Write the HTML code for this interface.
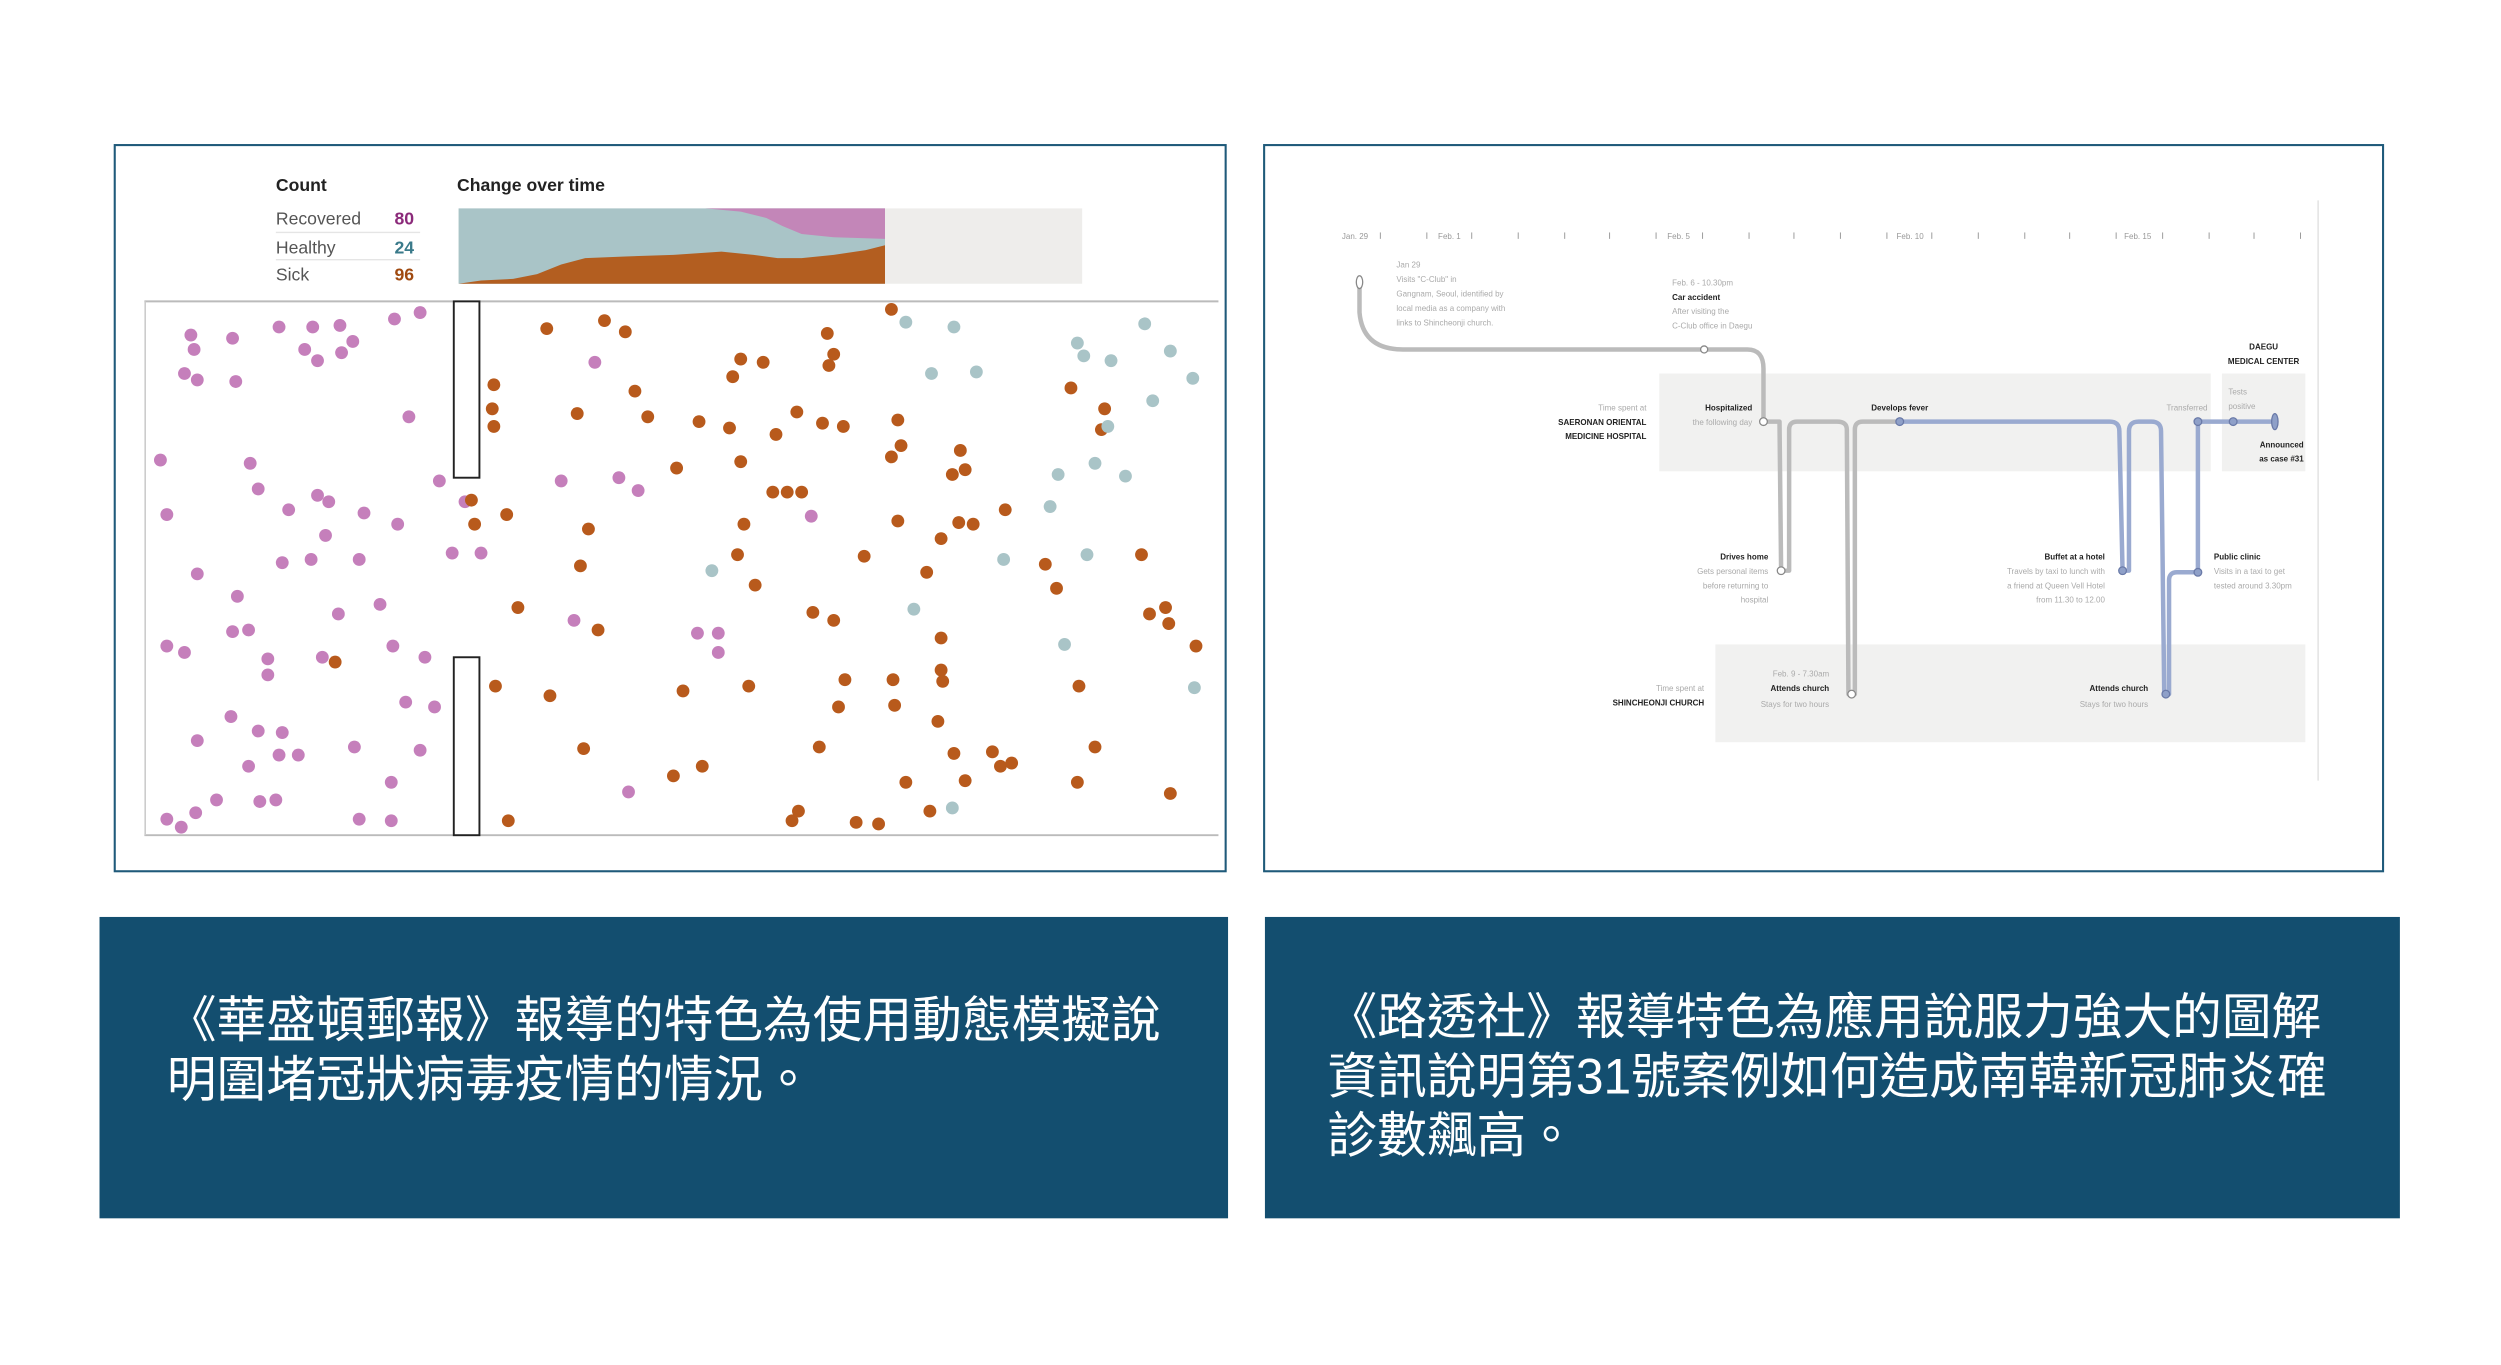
<!DOCTYPE html>
<html><head><meta charset="utf-8"><style>
html,body{margin:0;padding:0;background:#fff;}
svg{display:block;}
.s{font-family:"Liberation Sans",sans-serif;font-size:5px;fill:#aaa;}
.b{font-family:"Liberation Sans",sans-serif;font-size:5px;fill:#222;font-weight:bold;}
.cap{font-family:"Liberation Sans","Noto Sans CJK TC",sans-serif;font-size:31px;fill:#fff;}
</style></head><body>
<svg width="2501" height="1365" viewBox="0 0 1560 851.5" xmlns="http://www.w3.org/2000/svg">
<rect x="0" y="0" width="1560" height="852" fill="#fff"/>
<rect x="71.5" y="90.5" width="693" height="453" fill="#fff" stroke="#1f5a7a" stroke-width="1.3"/>
<rect x="788.5" y="90.5" width="698" height="453" fill="#fff" stroke="#1f5a7a" stroke-width="1.3"/>

<g font-family="Liberation Sans, sans-serif">
<text x="172" y="119" font-size="11" font-weight="bold" fill="#222">Count</text>
<text x="285" y="119" font-size="11" font-weight="bold" fill="#222">Change over time</text>
<text x="172" y="140" font-size="11" fill="#555">Recovered</text>
<text x="246" y="140" font-size="11" font-weight="bold" fill="#8b2a7a">80</text>
<line x1="172" y1="145" x2="262" y2="145" stroke="#e5e5e5" stroke-width="0.8"/>
<text x="172" y="158" font-size="11" fill="#555">Healthy</text>
<text x="246" y="158" font-size="11" font-weight="bold" fill="#3a7a8a">24</text>
<line x1="172" y1="162" x2="262" y2="162" stroke="#e5e5e5" stroke-width="0.8"/>
<text x="172" y="175" font-size="11" fill="#555">Sick</text>
<text x="246" y="175" font-size="11" font-weight="bold" fill="#a04a10">96</text>
</g>
<rect x="286" y="130" width="389" height="47" fill="#eeedeb"/>
<rect x="286" y="130" width="266" height="47" fill="#a9c4c7"/>
<path d="M420,130 L552,130 L552,149 L520,148 L500,146 L488,141 L478,136 L462,132 L440,130 Z" fill="#c386b8"/>
<path d="M286,177 L300,175 L320,174 L335,171 L350,165 L365,161 L390,160 L420,159 L450,157 L470,159 L485,161 L500,161 L520,159 L540,156 L552,153 L552,177 Z" fill="#b35e20"/>

<line x1="90" y1="188" x2="760" y2="188" stroke="#bbb" stroke-width="1.2"/>
<line x1="90" y1="521" x2="760" y2="521" stroke="#bbb" stroke-width="1.2"/>
<line x1="90.5" y1="188" x2="90.5" y2="521" stroke="#ccc" stroke-width="1"/>
<rect x="283" y="188" width="16" height="110" fill="#fff" stroke="#222" stroke-width="1.2"/>
<rect x="283" y="410" width="16" height="111" fill="#fff" stroke="#222" stroke-width="1.2"/>

<g fill="#c57fbb">
<circle cx="119" cy="209" r="4"/><circle cx="121" cy="218" r="4"/><circle cx="145" cy="211" r="4"/><circle cx="174" cy="204" r="4"/><circle cx="195" cy="204" r="4"/><circle cx="212" cy="203" r="4"/><circle cx="190" cy="218" r="4"/><circle cx="198" cy="225" r="4"/><circle cx="213" cy="220" r="4"/><circle cx="220" cy="213" r="4"/><circle cx="246" cy="199" r="4"/><circle cx="262" cy="195" r="4"/><circle cx="115" cy="233" r="4"/><circle cx="123" cy="237" r="4"/><circle cx="147" cy="238" r="4"/><circle cx="255" cy="260" r="4"/><circle cx="100" cy="287" r="4"/><circle cx="156" cy="289" r="4"/><circle cx="161" cy="305" r="4"/><circle cx="198" cy="309" r="4"/><circle cx="205" cy="313" r="4"/><circle cx="180" cy="318" r="4"/><circle cx="104" cy="321" r="4"/><circle cx="227" cy="320" r="4"/><circle cx="248" cy="327" r="4"/><circle cx="274" cy="300" r="4"/><circle cx="290" cy="313" r="4"/><circle cx="224" cy="349" r="4"/><circle cx="203" cy="334" r="4"/><circle cx="194" cy="349" r="4"/><circle cx="176" cy="351" r="4"/><circle cx="123" cy="358" r="4"/><circle cx="148" cy="372" r="4"/><circle cx="145" cy="394" r="4"/><circle cx="155" cy="393" r="4"/><circle cx="211" cy="383" r="4"/><circle cx="237" cy="377" r="4"/><circle cx="104" cy="403" r="4"/><circle cx="115" cy="407" r="4"/><circle cx="167" cy="411" r="4"/><circle cx="167" cy="421" r="4"/><circle cx="201" cy="410" r="4"/><circle cx="245" cy="403" r="4"/><circle cx="265" cy="410" r="4"/><circle cx="271" cy="441" r="4"/><circle cx="253" cy="438" r="4"/><circle cx="144" cy="447" r="4"/><circle cx="161" cy="456" r="4"/><circle cx="176" cy="457" r="4"/><circle cx="123" cy="462" r="4"/><circle cx="186" cy="471" r="4"/><circle cx="174" cy="471" r="4"/><circle cx="155" cy="478" r="4"/><circle cx="221" cy="466" r="4"/><circle cx="262" cy="468" r="4"/><circle cx="172" cy="499" r="4"/><circle cx="162" cy="500" r="4"/><circle cx="135" cy="499" r="4"/><circle cx="244" cy="488" r="4"/><circle cx="104" cy="511" r="4"/><circle cx="113" cy="516" r="4"/><circle cx="122" cy="507" r="4"/><circle cx="224" cy="511" r="4"/><circle cx="244" cy="512" r="4"/><circle cx="282" cy="345" r="4"/><circle cx="300" cy="345" r="4"/><circle cx="358" cy="387" r="4"/><circle cx="386" cy="298" r="4"/><circle cx="371" cy="226" r="4"/><circle cx="398" cy="306" r="4"/><circle cx="435" cy="395" r="4"/><circle cx="448" cy="395" r="4"/><circle cx="448" cy="407" r="4"/><circle cx="392" cy="494" r="4"/><circle cx="350" cy="300" r="4"/><circle cx="506" cy="322" r="4"/>
</g>
<g fill="#b85a1c">
<circle cx="341" cy="205" r="4"/><circle cx="377" cy="200" r="4"/><circle cx="390" cy="207" r="4"/><circle cx="308" cy="240" r="4"/><circle cx="307" cy="255" r="4"/><circle cx="308" cy="266" r="4"/><circle cx="360" cy="258" r="4"/><circle cx="396" cy="244" r="4"/><circle cx="404" cy="260" r="4"/><circle cx="296" cy="327" r="4"/><circle cx="316" cy="321" r="4"/><circle cx="294" cy="312" r="4"/><circle cx="373" cy="393" r="4"/><circle cx="323" cy="379" r="4"/><circle cx="343" cy="434" r="4"/><circle cx="309" cy="428" r="4"/><circle cx="364" cy="467" r="4"/><circle cx="317" cy="512" r="4"/><circle cx="209" cy="413" r="4"/><circle cx="367" cy="330" r="4"/><circle cx="362" cy="353" r="4"/><circle cx="422" cy="292" r="4"/><circle cx="436" cy="263" r="4"/><circle cx="455" cy="267" r="4"/><circle cx="457" cy="235" r="4"/><circle cx="462" cy="224" r="4"/><circle cx="476" cy="226" r="4"/><circle cx="484" cy="271" r="4"/><circle cx="497" cy="257" r="4"/><circle cx="516" cy="208" r="4"/><circle cx="520" cy="221" r="4"/><circle cx="517" cy="228" r="4"/><circle cx="513" cy="264" r="4"/><circle cx="526" cy="266" r="4"/><circle cx="560" cy="262" r="4"/><circle cx="562" cy="278" r="4"/><circle cx="556" cy="285" r="4"/><circle cx="599" cy="281" r="4"/><circle cx="602" cy="293" r="4"/><circle cx="594" cy="296" r="4"/><circle cx="462" cy="288" r="4"/><circle cx="482" cy="307" r="4"/><circle cx="491" cy="307" r="4"/><circle cx="500" cy="307" r="4"/><circle cx="464" cy="327" r="4"/><circle cx="460" cy="346" r="4"/><circle cx="471" cy="365" r="4"/><circle cx="539" cy="347" r="4"/><circle cx="560" cy="325" r="4"/><circle cx="578" cy="357" r="4"/><circle cx="587" cy="336" r="4"/><circle cx="598" cy="326" r="4"/><circle cx="607" cy="327" r="4"/><circle cx="627" cy="318" r="4"/><circle cx="652" cy="352" r="4"/><circle cx="659" cy="367" r="4"/><circle cx="668" cy="242" r="4"/><circle cx="689" cy="255" r="4"/><circle cx="687" cy="268" r="4"/><circle cx="712" cy="346" r="4"/><circle cx="507" cy="382" r="4"/><circle cx="520" cy="387" r="4"/><circle cx="426" cy="431" r="4"/><circle cx="467" cy="428" r="4"/><circle cx="527" cy="424" r="4"/><circle cx="523" cy="441" r="4"/><circle cx="557" cy="424" r="4"/><circle cx="558" cy="440" r="4"/><circle cx="587" cy="398" r="4"/><circle cx="587" cy="418" r="4"/><circle cx="588" cy="425" r="4"/><circle cx="585" cy="450" r="4"/><circle cx="511" cy="466" r="4"/><circle cx="438" cy="478" r="4"/><circle cx="420" cy="484" r="4"/><circle cx="565" cy="488" r="4"/><circle cx="595" cy="470" r="4"/><circle cx="602" cy="487" r="4"/><circle cx="619" cy="469" r="4"/><circle cx="624" cy="478" r="4"/><circle cx="631" cy="476" r="4"/><circle cx="683" cy="466" r="4"/><circle cx="672" cy="488" r="4"/><circle cx="673" cy="428" r="4"/><circle cx="717" cy="383" r="4"/><circle cx="727" cy="379" r="4"/><circle cx="729" cy="389" r="4"/><circle cx="746" cy="403" r="4"/><circle cx="730" cy="495" r="4"/><circle cx="494" cy="512" r="4"/><circle cx="498" cy="506" r="4"/><circle cx="534" cy="513" r="4"/><circle cx="548" cy="514" r="4"/><circle cx="580" cy="506" r="4"/><circle cx="556" cy="193" r="4"/>
</g>
<g fill="#a9c4c7">
<circle cx="565" cy="201" r="4"/><circle cx="595" cy="204" r="4"/><circle cx="581" cy="233" r="4"/><circle cx="609" cy="232" r="4"/><circle cx="672" cy="214" r="4"/><circle cx="676" cy="222" r="4"/><circle cx="693" cy="225" r="4"/><circle cx="714" cy="202" r="4"/><circle cx="730" cy="219" r="4"/><circle cx="744" cy="236" r="4"/><circle cx="719" cy="250" r="4"/><circle cx="691" cy="266" r="4"/><circle cx="683" cy="289" r="4"/><circle cx="660" cy="296" r="4"/><circle cx="702" cy="297" r="4"/><circle cx="655" cy="316" r="4"/><circle cx="626" cy="349" r="4"/><circle cx="678" cy="346" r="4"/><circle cx="444" cy="356" r="4"/><circle cx="570" cy="380" r="4"/><circle cx="664" cy="402" r="4"/><circle cx="745" cy="429" r="4"/><circle cx="594" cy="504" r="4"/>
</g>

<rect x="1035" y="233" width="344" height="61" fill="#f1f1f0"/>
<rect x="1386" y="233" width="52" height="61" fill="#f1f1f0"/>
<rect x="1070" y="402" width="368" height="61" fill="#f1f1f0"/>
<line x1="1446" y1="125" x2="1446" y2="487" stroke="#e4e4e4" stroke-width="1"/>
<g stroke="#999" stroke-width="0.6">
<line x1="861" y1="145" x2="861" y2="149"/><line x1="890" y1="145" x2="890" y2="149"/><line x1="918" y1="145" x2="918" y2="149"/><line x1="947" y1="145" x2="947" y2="149"/><line x1="976" y1="145" x2="976" y2="149"/><line x1="1004" y1="145" x2="1004" y2="149"/><line x1="1033" y1="145" x2="1033" y2="149"/><line x1="1062" y1="145" x2="1062" y2="149"/><line x1="1091" y1="145" x2="1091" y2="149"/><line x1="1119" y1="145" x2="1119" y2="149"/><line x1="1148" y1="145" x2="1148" y2="149"/><line x1="1177" y1="145" x2="1177" y2="149"/><line x1="1205" y1="145" x2="1205" y2="149"/><line x1="1234" y1="145" x2="1234" y2="149"/><line x1="1263" y1="145" x2="1263" y2="149"/><line x1="1291" y1="145" x2="1291" y2="149"/><line x1="1320" y1="145" x2="1320" y2="149"/><line x1="1349" y1="145" x2="1349" y2="149"/><line x1="1378" y1="145" x2="1378" y2="149"/><line x1="1406" y1="145" x2="1406" y2="149"/><line x1="1435" y1="145" x2="1435" y2="149"/>
</g>
<g class="s" style="fill:#999">
<text x="837" y="149">Jan. 29</text><text x="897" y="149">Feb. 1</text><text x="1040" y="149">Feb. 5</text><text x="1183" y="149">Feb. 10</text><text x="1325" y="149">Feb. 15</text>
</g>
<path d="M848,176 L848,195 Q850,218 875,218 L1090,218 Q1100,218 1100,230 L1100,263 L1110,263 L1111,356 M1111,356 L1116,356 L1116,268 Q1116,263 1121,263 L1146,263 Q1152,263 1152,268 L1153,433 L1157,433 L1157,268 Q1157,263 1162,263 L1185,263" fill="none" stroke="#bbb" stroke-width="2.8" stroke-linejoin="round"/>
<path d="M1185,263 L1316,263 Q1322,263 1322,269 L1324,356 L1328,356 L1328,269 Q1328,263 1334,263 L1342,263 Q1348,263 1348,269 L1350,433 L1353,433 L1353,362 Q1353,357 1358,357 L1371,357 L1371,263 L1419,263" fill="none" stroke="#9aaad0" stroke-width="2.8" stroke-linejoin="round"/>
<g fill="#fff" stroke="#888" stroke-width="0.8">
<ellipse cx="848" cy="176" rx="2" ry="4"/><circle cx="1063" cy="218" r="2.2"/><circle cx="1100" cy="263" r="2.4"/><circle cx="1111" cy="356" r="2.4"/><circle cx="1155" cy="433" r="2.4"/>
</g>
<g fill="#8fa0c8" stroke="#6a7aa8" stroke-width="0.8">
<circle cx="1185" cy="263" r="2.4"/><circle cx="1324" cy="356" r="2.4"/><circle cx="1351" cy="433" r="2.4"/><circle cx="1371" cy="357" r="2.4"/><circle cx="1371" cy="263" r="2.4"/><circle cx="1393" cy="263" r="2.4"/><ellipse cx="1419" cy="263" rx="2" ry="5"/>
</g>
<g class="s">
<text x="871" y="167">Jan 29</text><text x="871" y="176">Visits "C-Club" in</text><text x="871" y="185">Gangnam, Seoul, identified by</text><text x="871" y="194">local media as a company with</text><text x="871" y="203">links to Shincheonji church.</text>
<text x="1043" y="178">Feb. 6 - 10.30pm</text><text x="1043" y="196">After visiting the</text><text x="1043" y="205">C-Club office in Daegu</text>
<text x="1027" y="256" text-anchor="end">Time spent at</text>
<text x="1093" y="265" text-anchor="end">the following day</text>
<text x="1377" y="256" text-anchor="end">Transferred</text>
<text x="1390" y="246">Tests</text><text x="1390" y="255">positive</text>
<text x="1103" y="358" text-anchor="end">Gets personal items</text><text x="1103" y="367" text-anchor="end">before returning to</text><text x="1103" y="376" text-anchor="end">hospital</text>
<text x="1313" y="358" text-anchor="end">Travels by taxi to lunch with</text><text x="1313" y="367" text-anchor="end">a friend at Queen Vell Hotel</text><text x="1313" y="376" text-anchor="end">from 11.30 to 12.00</text>
<text x="1381" y="358">Visits in a taxi to get</text><text x="1381" y="367">tested around 3.30pm</text>
<text x="1063" y="431" text-anchor="end">Time spent at</text>
<text x="1141" y="422" text-anchor="end">Feb. 9 - 7.30am</text><text x="1141" y="441" text-anchor="end">Stays for two hours</text>
<text x="1340" y="441" text-anchor="end">Stays for two hours</text>
</g>
<g class="b">
<text x="1043" y="187">Car accident</text>
<text x="1412" y="218" text-anchor="middle">DAEGU</text><text x="1412" y="227" text-anchor="middle">MEDICAL CENTER</text>
<text x="1027" y="265" text-anchor="end">SAERONAN ORIENTAL</text><text x="1027" y="274" text-anchor="end">MEDICINE HOSPITAL</text>
<text x="1093" y="256" text-anchor="end">Hospitalized</text>
<text x="1185" y="256" text-anchor="middle">Develops fever</text>
<text x="1437" y="279" text-anchor="end">Announced</text><text x="1437" y="288" text-anchor="end">as case #31</text>
<text x="1103" y="349" text-anchor="end">Drives home</text>
<text x="1313" y="349" text-anchor="end">Buffet at a hotel</text>
<text x="1381" y="349">Public clinic</text>
<text x="1063" y="440" text-anchor="end">SHINCHEONJI CHURCH</text>
<text x="1141" y="431" text-anchor="end">Attends church</text>
<text x="1340" y="431" text-anchor="end">Attends church</text>
</g>

<rect x="62" y="572" width="704" height="188" fill="#134e6f"/>
<rect x="789" y="572" width="708" height="188" fill="#134e6f"/>
<text class="cap" x="104" y="647">《華盛頓郵報》報導的特色為使用動態模擬說</text>
<text class="cap" x="104" y="684">明圍堵冠狀病毒疫情的情況。</text>
<text class="cap" x="828" y="645">《路透社》報導特色為應用說服力強大的圖解</text>
<text class="cap" x="828" y="682">資訊說明第31號案例如何造成南韓新冠肺炎確</text>
<text class="cap" x="828" y="719">診數飆高。</text>
</svg>
</body></html>
